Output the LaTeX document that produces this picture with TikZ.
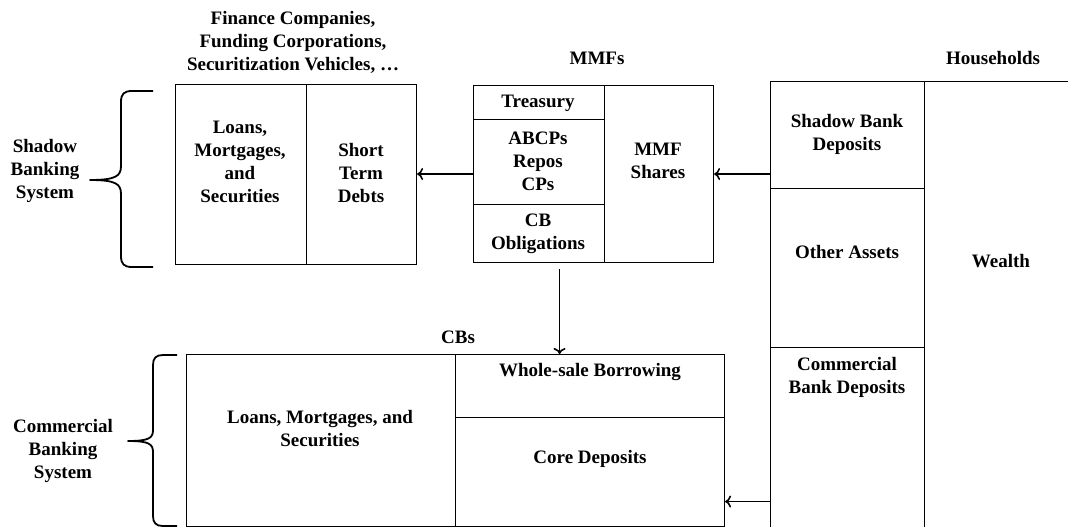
\documentclass[tikz,border=0pt]{standalone}
\usepackage{fontspec}
\setmainfont{Liberation Serif}
\usetikzlibrary{arrows.meta}
\tikzset{
  cell/.style={draw, line width=1.1pt, inner sep=0pt, anchor=north west},
  lbl/.style={align=center, inner sep=0pt, font=\bfseries\fontsize{19}{23}\selectfont},
  arrow/.style={line width=1.6pt, -{To[length=6pt,width=12pt]}},
  bracket/.style={line width=1.8pt, line join=round}
}
\begin{document}
\begin{tikzpicture}[x=1pt,y=-1pt]
  \useasboundingbox (0,0) rectangle (1068,527);
  \clip (0,0) rectangle (1068,527);

  % Shadow banking system
  \node[cell, minimum width=131pt, minimum height=180pt] (sbL) at (175,84) {};
  \node[cell, minimum width=110pt, minimum height=180pt] (sbR) at (306,84) {};
  \node[lbl] (sbTitle) at (293,42) {Finance Companies,\\Funding Corporations,\\Securitization Vehicles, \dots};
  \node[lbl] (sbLoans) at (240,162) {Loans,\\Mortgages,\\and\\Securities};
  \node[lbl] (sbDebts) at (361,173) {Short\\Term\\Debts};
  \node[lbl] (sbSys) at (45,171) {Shadow\\Banking\\System};
  \draw[bracket] (153,91) -- (132,91) .. controls (124,91) and (121,94) .. (121,102)
    -- (121,166) .. controls (121,176) and (116,180) .. (90,180)
    .. controls (116,180) and (121,184) .. (121,194)
    -- (121,256) .. controls (121,264) and (124,267) .. (132,267) -- (153,267);

  % MMFs
  \node[cell, minimum width=240pt, minimum height=177pt] (mmf) at (473,85) {};
  \node[cell, minimum width=131pt, minimum height=34pt] (mmfTr) at (473,85) {};
  \node[cell, minimum width=131pt, minimum height=85pt] (mmfAb) at (473,119) {};
  \node[cell, minimum width=131pt, minimum height=58pt] (mmfCb) at (473,204) {};
  \node[lbl] (mmfTitle) at (597,58) {MMFs};
  \node[lbl] (mmfTrTxt) at (538,103) {Treasury};
  \node[lbl] (mmfAbTxt) at (538,161) {ABCPs\\Repos\\CPs};
  \node[lbl] (mmfCbTxt) at (538,234) {CB\\Obligations};
  \node[lbl] (mmfSh) at (658,161) {MMF\\Shares};

  % Households
  \node[cell, minimum width=154pt, minimum height=107pt] (hhSB) at (770,81) {};
  \node[cell, minimum width=154pt, minimum height=159pt] (hhOA) at (770,188) {};
  \node[cell, minimum width=154pt, minimum height=200pt] (hhCB) at (770,347) {};
  \node[cell, minimum width=160pt, minimum height=466pt] (hhW) at (924,81) {};
  \node[lbl] (hhTitle) at (993,58) {Households};
  \node[lbl] (hhSBTxt) at (847,134) {Shadow Bank\\Deposits};
  \node[lbl] (hhOATxt) at (847,252) {Other Assets};
  \node[lbl] (hhCBTxt) at (847,377) {Commercial\\Bank Deposits};
  \node[lbl] (hhWTxt) at (1001,261) {Wealth};

  % Commercial banking system
  \node[cell, minimum width=269pt, minimum height=172pt] (cbL) at (186,354) {};
  \node[cell, minimum width=269pt, minimum height=63pt] (cbWs) at (455,354) {};
  \node[cell, minimum width=269pt, minimum height=109pt] (cbCd) at (455,417) {};
  \node[lbl] (cbTitle) at (458,337) {CBs};
  \node[lbl] (cbLTxt) at (320,429) {Loans, Mortgages, and\\Securities};
  \node[lbl] (cbWsTxt) at (590,372) {Whole-sale Borrowing};
  \node[lbl] (cbCdTxt) at (590,459) {Core Deposits};
  \node[lbl] (cbSys) at (63,451) {Commercial\\Banking\\System};
  \draw[bracket] (177,355) -- (163,355) .. controls (156,355) and (153,358) .. (153,365)
    -- (153,430) .. controls (153,438) and (149,441) .. (128,441)
    .. controls (149,441) and (153,444) .. (153,452)
    -- (153,516) .. controls (153,523) and (156,526) .. (163,526) -- (177,526);

  % Flows
  \draw[arrow] (mmf.west) -- (mmf.west -| sbR.east);
  \draw[arrow] (hhSB.west |- mmf.east) -- (mmf.east);
  \draw[arrow] ([xshift=-34pt,yshift=-6pt]mmf.south) -- ([xshift=-34pt]mmf.south |- cbWs.north);
  \draw[arrow] ([yshift=-54pt]hhCB.west) -- ([yshift=-54pt]hhCB.west -| cbCd.east);
\end{tikzpicture}
\end{document}
